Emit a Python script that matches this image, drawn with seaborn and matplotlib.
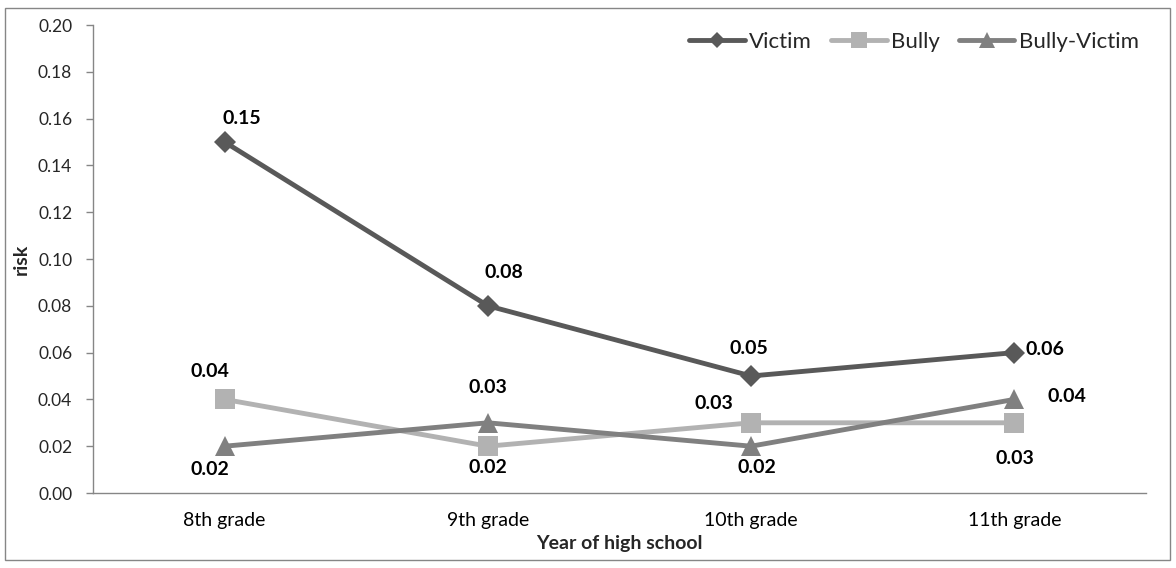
import matplotlib
matplotlib.use("Agg")
import matplotlib.pyplot as plt
from matplotlib.patches import Rectangle
import seaborn as sns
import pandas as pd

grades = ["8th grade", "9th grade", "10th grade", "11th grade"]
victim = [0.15, 0.08, 0.05, 0.06]
bully = [0.04, 0.02, 0.03, 0.03]
bully_victim = [0.02, 0.03, 0.02, 0.04]
series_names = ["Victim", "Bully", "Bully-Victim"]
y_ticks = [0.00, 0.02, 0.04, 0.06, 0.08, 0.10, 0.12, 0.14, 0.16, 0.18, 0.20]

sns.set_style("white")
plt.rcParams["font.family"] = ["Lato", "DejaVu Sans"]

rows = []
for name, vals in zip(series_names, [victim, bully, bully_victim]):
    for g, v in zip(grades, vals):
        rows.append({"grade": g, "risk": v, "series": name})
df = pd.DataFrame(rows)

palette = {"Victim": "#595959", "Bully": "#b2b2b2", "Bully-Victim": "#808080"}
markers = {"Victim": "D", "Bully": "s", "Bully-Victim": "^"}
msizes = {"Victim": 11.5, "Bully": 14, "Bully-Victim": 14}
leg_msizes = {"Victim": 8.5, "Bully": 11.5, "Bully-Victim": 11.5}

fig = plt.figure(figsize=(11.76, 5.68), dpi=100)
ax = fig.add_axes([93 / 1176, 1 - 493 / 568, (1146 - 93) / 1176, (493 - 25) / 568])

sns.lineplot(data=df, x="grade", y="risk", hue="series", style="series",
             hue_order=series_names, style_order=series_names,
             palette=palette, markers=markers, dashes=False,
             linewidth=3.5, markersize=12, markeredgewidth=0,
             sort=False, ax=ax)

# per-series marker sizes
for line, name in zip(ax.lines, series_names):
    line.set_markersize(msizes[name])

ax.set_xlim(-0.5, 3.5)
ax.set_ylim(0, 0.20)
ax.set_yticks(y_ticks)
ax.set_yticklabels([f"{t:.2f}" for t in y_ticks])
ax.set_xticks(range(len(grades)))
ax.set_xticklabels(grades)
ax.set_xticks([i - 0.5 for i in range(len(grades) + 1)], minor=True)
ax.tick_params(axis="x", which="major", length=0, pad=14, labelsize=14, colors="#000000")
ax.tick_params(axis="x", which="minor", length=6, direction="out", color="#868686", width=1)
ax.tick_params(axis="y", which="major", length=5, direction="out", color="#868686",
               width=1, labelsize=12.5, pad=10, left=True)

for side in ["top", "right"]:
    ax.spines[side].set_visible(False)
for side in ["left", "bottom"]:
    ax.spines[side].set_color("#868686")
    ax.spines[side].set_linewidth(1)

ax.set_xlabel("Year of high school", fontsize=14, fontweight="bold", labelpad=4)
ax.set_ylabel("risk", fontsize=14, fontweight="bold", labelpad=6)

# value labels (pixel offsets from each marker)
offsets = {
    "Victim": [(17, 23), (16, 33), (-2, 27), (31, 3)],
    "Bully": [(-15, 28), (0, -21), (-37, 19), (0, -36)],
    "Bully-Victim": [(-15, -23), (0, 35), (6, -21), (53, 3)],
}
for name, vals in zip(series_names, [victim, bully, bully_victim]):
    for i, v in enumerate(vals):
        dx, dy = offsets[name][i]
        ax.annotate(f"{v:.2f}", (i, v), xytext=(dx, dy), textcoords="offset pixels",
                    ha="center", va="center", fontsize=14, fontweight="bold", color="#000000")

leg = ax.legend(loc="center right", ncol=3, frameon=False, fontsize=16,
                bbox_to_anchor=(1150 / 1176, 1 - 42 / 568),
                bbox_transform=fig.transFigure, borderpad=0,
                handlelength=2.5, columnspacing=0.85, handletextpad=0.2)
for h, name in zip(leg.legend_handles, series_names):
    h.set_linewidth(3.5)
    h.set_markersize(leg_msizes[name])

fig.add_artist(Rectangle((5 / 1176, 8 / 568), 1165 / 1176, 552 / 568,
                         transform=fig.transFigure, fill=False,
                         edgecolor="#868686", linewidth=1))

fig.savefig("out.png", dpi=100)
